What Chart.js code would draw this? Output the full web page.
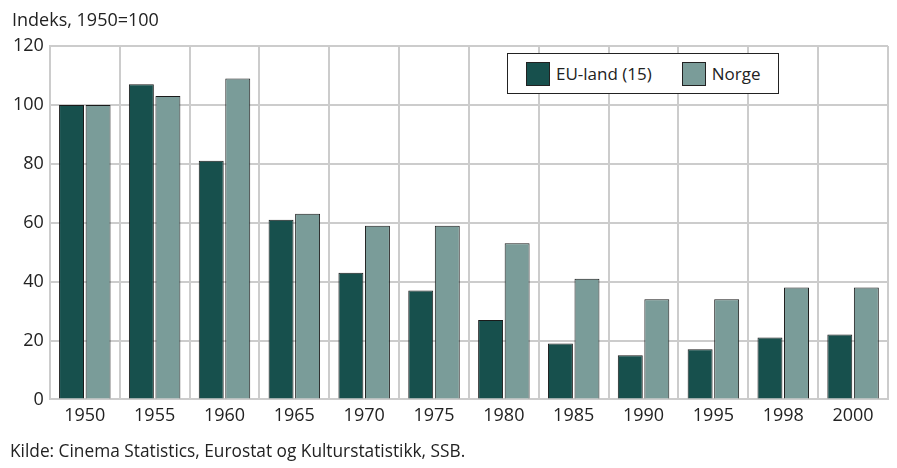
<!DOCTYPE html>
<html>
<head>
<meta charset="utf-8">
<script src="https://cdn.jsdelivr.net/npm/chart.js@4"></script>
<style>
  body { margin: 0; background: #fff; font-family: "Open Sans", sans-serif; color: #222; }
  #wrap { position: relative; width: 897px; height: 468px; }
  #title { position: absolute; left: 12px; top: 7px; font-size: 18px; }
  #source { position: absolute; left: 10px; top: 439px; font-size: 17.3px; }
  #legend { position: absolute; left: 507px; top: 53px; width: 272px; height: 41px; border: 1px solid #222;
            background: #fff; display: flex; align-items: center; font-size: 17px; box-sizing: border-box; }
  .sw { display: inline-block; width: 24px; height: 24px; border: 1px solid #222; margin-right: 6px; box-sizing: border-box; }
  .item { display: flex; align-items: center; }
</style>
</head>
<body>
<div id="wrap">
  <canvas id="chart" width="897" height="468"></canvas>
  <div id="title">Indeks, 1950=100</div>
  <div id="legend">
    <span class="item" style="margin-left:18px"><span class="sw" style="background:#17504d"></span>EU-land (15)</span>
    <span class="item" style="margin-left:30px"><span class="sw" style="background:#7a9c99"></span>Norge</span>
  </div>
  <div id="source">Kilde: Cinema Statistics, Eurostat og Kulturstatistikk, SSB.</div>
</div>
<script>
const years = ['1950', '1955', '1960', '1965', '1970', '1975', '1980', '1985', '1990', '1995', '1998', '2000'];
const euValues = [100, 107, 81, 61, 43, 37, 27, 19, 15, 17, 21, 22];
const norgeValues = [100, 103, 109, 63, 59, 59, 53, 41, 34, 34, 38, 38];
const yTicks = [0, 20, 40, 60, 80, 100, 120];

const textColor = '#222';
const gridColor = '#cccccc';

new Chart(document.getElementById('chart').getContext('2d'), {
    type: 'bar',
    data: {
        labels: years,
        datasets: [
            { label: 'EU-land (15)', data: euValues, backgroundColor: '#17504d', borderColor: '#1a1a1a', borderWidth: 1,
              categoryPercentage: 0.76, barPercentage: 0.94 },
            { label: 'Norge', data: norgeValues, backgroundColor: '#7a9c99', borderColor: '#1a1a1a', borderWidth: 1,
              categoryPercentage: 0.76, barPercentage: 0.94 }
        ]
    },
    options: {
        responsive: false,
        animation: false,
        layout: { padding: { top: 46, right: 9, bottom: 35, left: 7 } },
        plugins: { legend: { display: false }, tooltip: { enabled: false } },
        scales: {
            x: {
                grid: { color: gridColor, lineWidth: 2, offset: true, drawTicks: false },
                border: { color: gridColor, width: 2 },
                ticks: { color: textColor, font: { family: 'Open Sans', size: 18 }, padding: 6 }
            },
            y: {
                min: 0, max: 120,
                afterBuildTicks: axis => { axis.ticks = yTicks.map(v => ({ value: v })); },
                grid: { color: gridColor, lineWidth: 2, drawTicks: false },
                border: { color: gridColor, width: 2 },
                ticks: { color: textColor, font: { family: 'Open Sans', size: 18 }, padding: 6 }
            }
        }
    },
    plugins: [{
        id: 'rightBorder',
        afterDraw(chart) {
            const { ctx, chartArea } = chart;
            ctx.save();
            ctx.strokeStyle = gridColor;
            ctx.lineWidth = 2;
            ctx.beginPath();
            ctx.moveTo(chartArea.right, chartArea.top);
            ctx.lineTo(chartArea.right, chartArea.bottom);
            ctx.stroke();
            ctx.restore();
        }
    }]
});
</script>
</body>
</html>
